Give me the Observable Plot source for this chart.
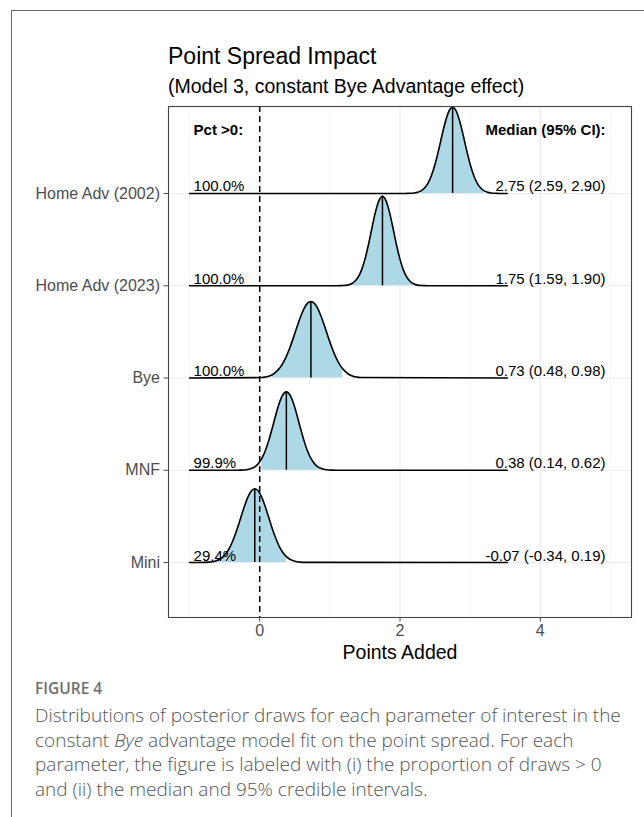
<!DOCTYPE html>
<html><head><meta charset="utf-8">
<script src="https://cdn.jsdelivr.net/npm/d3@7"></script>
<script src="https://cdn.jsdelivr.net/npm/@observablehq/plot@0.6"></script>
<style>
body{margin:0;background:#fff;width:644px;height:817px;position:relative;overflow:hidden;font-family:"Liberation Sans",Arial,sans-serif;}
#frame{position:absolute;left:11px;top:10px;right:-5px;bottom:-5px;border-left:1.5px solid #6b6b6b;border-top:1.5px solid #6b6b6b;}
#title{position:absolute;left:168px;top:44.5px;font-size:23px;line-height:23px;color:#000;white-space:nowrap;}
#subtitle{position:absolute;left:168px;top:76.5px;font-size:19.5px;line-height:19.5px;color:#000;white-space:nowrap;}
#chart{position:absolute;left:0;top:96px;}
#figlabel{position:absolute;left:35px;top:679px;font-family:"Open Sans",sans-serif;font-size:15.5px;line-height:18px;color:#6e6e6e;font-weight:600;white-space:nowrap;}
#caption{position:absolute;left:35px;top:703px;font-family:"Open Sans",sans-serif;font-weight:300;font-size:19px;line-height:24.5px;color:#555;white-space:nowrap;}
</style></head>
<body>
<div id="frame"></div>
<div id="title">Point Spread Impact</div>
<div id="subtitle">(Model 3, constant Bye Advantage effect)</div>
<div id="chart"></div>
<div id="figlabel">FIGURE 4</div>
<div id="caption">Distributions of posterior draws for each parameter of interest in the<br>constant <i>Bye</i> advantage model fit on the point spread. For each<br>parameter, the figure is labeled with (i) the proportion of draws &gt; 0<br>and (ii) the median and 95% credible intervals.</div>
<script>
// categories, bottom to top
const categories = ["Mini", "MNF", "Bye", "Home Adv (2023)", "Home Adv (2002)"];
const medians = [-0.07, 0.38, 0.73, 1.75, 2.75];
const ciLow = [-0.34, 0.14, 0.48, 1.59, 2.59];
const ciHigh = [0.19, 0.62, 0.98, 1.90, 2.90];
const pctAbove0 = ["29.4%", "99.9%", "100.0%", "100.0%", "100.0%"];
const fillLo = [-0.62, 0.0, 0.15, 1.25, 2.26];
const fillHi = [0.42, 1.0, 1.22, 2.26, 3.21];
const lineStart = -1;
const lineEnd = 3.53;
const majorTicks = [0, 2, 4];
const minorTicks = [-1, 1, 3, 5];
const headerLeft = "Pct >0:";
const headerRight = "Median (95% CI):";
const headerRow = 4.685;
const labelRightX = 4.93;
// density heights (in row units) at offsets from the median
const offsets = [-0.7,-0.65,-0.6,-0.55,-0.5,-0.45,-0.4,-0.35,-0.3,-0.25,-0.2,-0.15,-0.1,-0.05,0,0.05,0.1,0.15,0.2,0.25,0.3,0.35,0.4,0.45,0.5,0.55,0.6,0.65,0.7];
const densMini = [.002,.004,.009,.018,.035,.064,.108,.173,.260,.366,.485,.604,.706,.775,.80,.775,.706,.604,.485,.366,.260,.173,.108,.064,.035,.018,.009,.004,.002];
const densMNF  = [0,.001,.003,.008,.018,.037,.072,.128,.212,.324,.458,.601,.728,.818,.85,.818,.728,.601,.458,.324,.212,.128,.072,.037,.018,.008,.003,.001,0];
const densBye  = [.005,.011,.020,.036,.063,.103,.159,.234,.328,.435,.549,.658,.749,.809,.83,.809,.749,.658,.549,.435,.328,.234,.159,.103,.063,.036,.020,.011,.005];
const dens2023 = [0,0,.001,.003,.007,.019,.043,.089,.167,.286,.444,.626,.798,.923,.97,.923,.798,.626,.444,.286,.167,.089,.043,.019,.007,.003,.001,0,0];
const dens2002 = [0,.001,.002,.005,.012,.028,.059,.112,.197,.317,.468,.634,.786,.896,.935,.896,.786,.634,.468,.317,.197,.112,.059,.028,.012,.005,.002,.001,0];
const densities = [densMini, densMNF, densBye, dens2023, dens2002];

const rows = categories.map((c, i) => i);
const curveData = [];
const fillData = [];
categories.forEach((c, i) => {
  curveData.push({cat: c, x: lineStart, y: i});
  offsets.forEach((o, j) => {
    const x = medians[i] + o, h = densities[i][j];
    curveData.push({cat: c, x, y: i + h});
    if (x >= fillLo[i] - 0.005 && x <= fillHi[i] + 0.005) fillData.push({cat: c, x, y1: i, y2: i + h});
  });
  curveData.push({cat: c, x: lineEnd, y: i});
});
const medianData = categories.map((c, i) => ({x: medians[i], y1: i, y2: i + densities[i][offsets.indexOf(0)]}));
const leftLabels = categories.map((c, i) => ({x: lineStart, y: i, t: pctAbove0[i]}));
const rightLabels = categories.map((c, i) => ({x: labelRightX, y: i,
  t: `${medians[i].toFixed(2)} (${ciLow[i].toFixed(2)}, ${ciHigh[i].toFixed(2)})`}));

const chart = Plot.plot({
  width: 644, height: 571,
  marginLeft: 168, marginRight: 13, marginTop: 10, marginBottom: 50,
  style: {fontFamily: "'Liberation Sans', Arial, sans-serif", fontSize: "15px", background: "transparent", overflow: "visible"},
  x: {domain: [-1.3, 5.3]},
  y: {domain: [-0.596, 4.943]},
  marks: [
    Plot.ruleX(minorTicks, {stroke: "#F2F2F2", strokeWidth: 0.7}),
    Plot.ruleX(majorTicks, {stroke: "#EBEBEB", strokeWidth: 1.2}),
    Plot.ruleY(rows, {stroke: "#EBEBEB", strokeWidth: 1.2}),
    Plot.areaY(fillData, {x: "x", y1: "y1", y2: "y2", z: "cat", fill: "#ADD8E6", curve: "monotone-x"}),
    Plot.ruleX(medianData, {x: "x", y1: "y1", y2: "y2", stroke: "black", strokeWidth: 1.5}),
    Plot.line(curveData, {x: "x", y: "y", z: "cat", stroke: "black", strokeWidth: 1.6, curve: "monotone-x"}),
    Plot.ruleX([0], {stroke: "black", strokeWidth: 1.5, strokeDasharray: "6,4"}),
    Plot.text(leftLabels, {x: "x", y: "y", text: "t", textAnchor: "start", lineAnchor: "bottom", dx: 4, dy: -2, fontSize: 15, fill: "black"}),
    Plot.text(rightLabels, {x: "x", y: "y", text: "t", textAnchor: "end", lineAnchor: "bottom", dy: -2, fontSize: 15, fill: "black"}),
    Plot.text([headerLeft], {x: lineStart, y: headerRow, text: d => d, textAnchor: "start", dx: 4, fontSize: 15, fontWeight: "bold", fill: "black"}),
    Plot.text([headerRight], {x: labelRightX, y: headerRow, text: d => d, textAnchor: "end", fontSize: 15, fontWeight: "bold", fill: "black"}),
    Plot.frame({stroke: "#444", strokeWidth: 1.1}),
    Plot.axisY(rows, {tickFormat: i => categories[i], tickSize: 4.5, tickPadding: 4, fontSize: 16, color: "#4D4D4D", label: null}),
    Plot.axisX(majorTicks, {tickSize: 4.5, tickPadding: 3, fontSize: 16, color: "#4D4D4D", label: null}),
    Plot.text(["Points Added"], {frameAnchor: "bottom", text: d => d, lineAnchor: "middle", dy: 35, fontSize: 19.5, fill: "black"})
  ]
});
document.getElementById("chart").appendChild(chart);
</script>
</body></html>
